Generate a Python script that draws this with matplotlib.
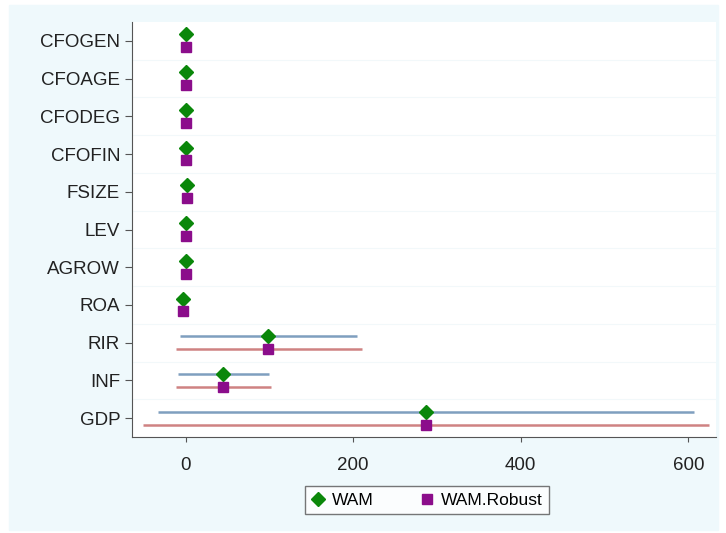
import numpy as np
import matplotlib.pyplot as plt
from matplotlib.lines import Line2D
from matplotlib.patches import Rectangle

plt.rcParams['font.family'] = ['Liberation Sans', 'DejaVu Sans']

# coefficient estimates and 95% CIs
variables = ['CFOGEN', 'CFOAGE', 'CFODEG', 'CFOFIN', 'FSIZE', 'LEV', 'AGROW',
             'ROA', 'RIR', 'INF', 'GDP']
wam = [0.5, 0.3, 0.6, 0.8, 1.5, 0.9, 0.5, -3, 98, 45, 287]
wam_lo = [0.2, 0.1, 0.3, 0.5, 1.0, 0.6, 0.2, -3.5, -7, -9, -33]
wam_hi = [0.8, 0.5, 0.9, 1.1, 2.0, 1.2, 0.8, -2.5, 204, 99, 607]
rob = [0.5, 0.3, 0.6, 0.8, 1.5, 0.9, 0.5, -3, 98, 45, 287]
rob_lo = [0.1, 0.0, 0.2, 0.4, 0.9, 0.5, 0.1, -3.8, -12, -11, -51]
rob_hi = [0.9, 0.6, 1.0, 1.2, 2.1, 1.3, 0.9, -2.2, 210, 102, 625]

fig = plt.figure(figsize=(7.26, 5.33), dpi=100)
bg = Rectangle((9 / 726, 3 / 533), 709 / 726, 525 / 533,
               transform=fig.transFigure, color='#eff9fc', zorder=-10)
fig.add_artist(bg)
ax = fig.add_axes([132 / 726, 96 / 533, 584 / 726, 415 / 533])
ax.set_facecolor('white')

y = np.arange(len(variables))
off = 0.17
ax.hlines(y - off, wam_lo, wam_hi, color='#7f9fbf', lw=1.8, zorder=2)
ax.hlines(y + off, rob_lo, rob_hi, color='#cf8282', lw=1.8, zorder=2)
ax.plot(wam, y - off, 'D', color='#0a870a', ms=7, ls='none', zorder=3)
ax.plot(rob, y + off, 's', color='#8b0d8b', ms=6.5, ls='none', zorder=3)

ax.set_ylim(len(variables) - 0.5, -0.5)
ax.set_yticks(y)
ax.set_yticklabels(variables, fontsize=13.5)
ax.set_yticks(y[:-1] + 0.5, minor=True)
ax.tick_params(axis='y', which='minor', length=0)
ax.grid(axis='y', which='minor', color='#f2f8fa', lw=0.8)

ax.set_xlim(-64, 633)
ax.set_xticks([0, 200, 400, 600])
ax.tick_params(axis='x', labelsize=13.5, pad=11, colors='#555555', labelcolor='#222222')
ax.tick_params(axis='y', colors='#555555', labelcolor='#222222', length=5)

for s in ['top', 'right']:
    ax.spines[s].set_visible(False)
for s in ['left', 'bottom']:
    ax.spines[s].set_color('#555555')

handles = [Line2D([], [], marker='D', color='#0a870a', ls='none', ms=7),
           Line2D([], [], marker='s', color='#8b0d8b', ls='none', ms=6.5)]
leg = fig.legend(handles, ['WAM', 'WAM.Robust'], loc='center', ncol=2,
                 bbox_to_anchor=(427 / 726, 1 - 500 / 533), fontsize=12.5,
                 frameon=True, fancybox=False, edgecolor='#555555',
                 handletextpad=0.4, handlelength=0.8, columnspacing=2.7,
                 borderpad=0.35)

fig.savefig('out.png', dpi=100, facecolor='white')
